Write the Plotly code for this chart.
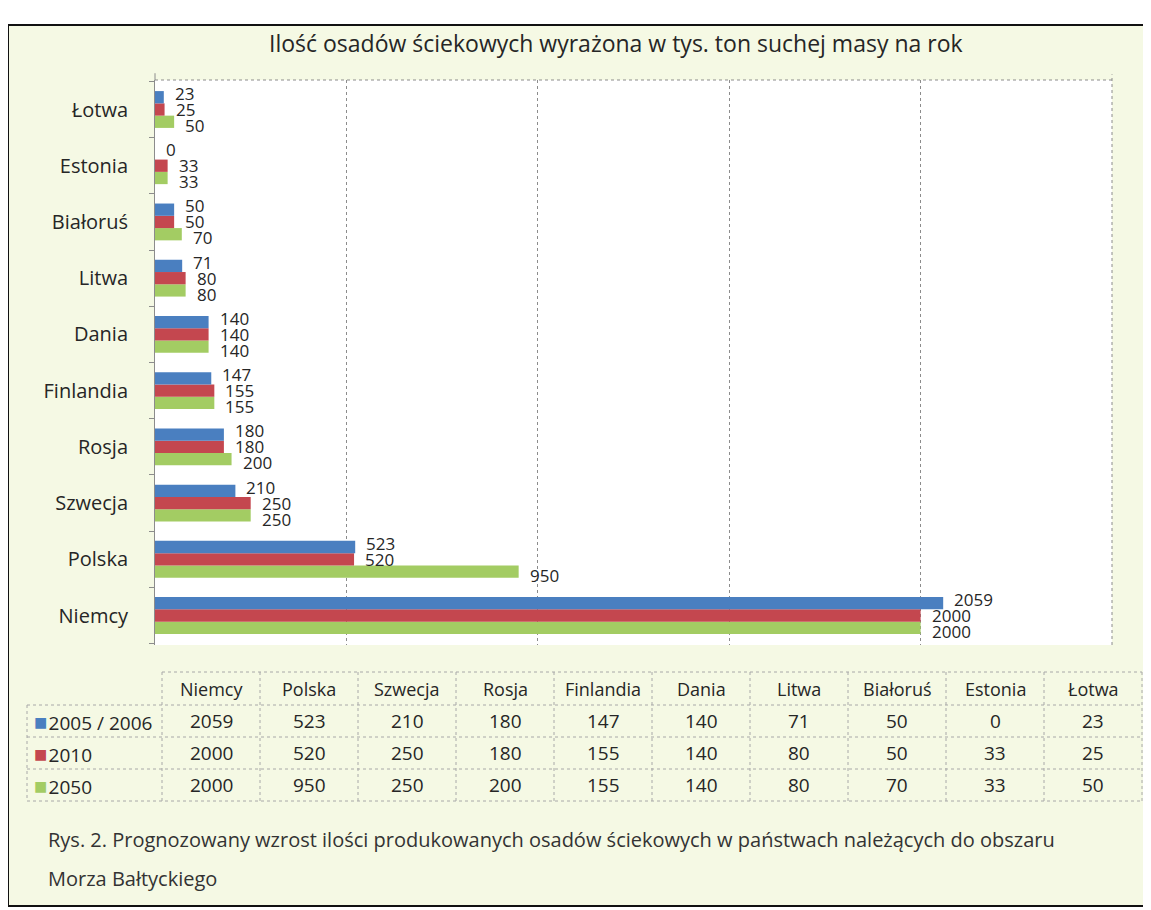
import plotly.graph_objects as go

# ---------------- data ----------------
categories = ["Niemcy", "Polska", "Szwecja", "Rosja", "Finlandia",
              "Dania", "Litwa", "Białoruś", "Estonia", "Łotwa"]
series_names = ["2005 / 2006", "2010", "2050"]
values_2005 = [2059, 523, 210, 180, 147, 140, 71, 50, 0, 23]
values_2010 = [2000, 520, 250, 180, 155, 140, 80, 50, 33, 25]
values_2050 = [2000, 950, 250, 200, 155, 140, 80, 70, 33, 50]
series_values = [values_2005, values_2010, values_2050]
series_colors = ["#4a7fc0", "#c4474f", "#a3cc63"]

title_text = "Ilość osadów ściekowych wyrażona w tys. ton suchej masy na rok"
caption_line1 = ("Rys. 2. Prognozowany wzrost ilości produkowanych osadów ściekowych "
                 "w państwach należących do obszaru")
caption_line2 = "Morza Bałtyckiego"

FONT = "Open Sans"
TXT = "#262626"

# ---------------- geometry helpers (reference pixel -> paper) ----------------
W, H = 1151, 910
OFF = 8                      # page body margin offset
L, R, T, B = 155, 1112, 80, 645


def px(x):
    return (x - L) / (R - L)


def py(y):
    return (B - y) / (B - T)


fig = go.Figure()

# traces added bottom-to-top within each group (2050 bottom, 2005/2006 top)
for idx in [2, 1, 0]:
    fig.add_trace(go.Bar(
        y=categories, x=series_values[idx], orientation="h",
        name=series_names[idx],
        marker=dict(color=series_colors[idx], line=dict(width=0)),
        showlegend=False, hoverinfo="x+y",
    ))

shapes = []
# outer frame with yellowish background
shapes.append(dict(type="rect", xref="paper", yref="paper",
                   x0=px(8), x1=px(1175), y0=py(906), y1=py(25),
                   fillcolor="#f5f9e4", line=dict(color="#111111", width=2),
                   layer="below"))
# white plot area
shapes.append(dict(type="rect", xref="paper", yref="paper",
                   x0=0, x1=1, y0=0, y1=1,
                   fillcolor="#ffffff", line=dict(width=0), layer="below"))
# plot top border and right border (dashed gray)
shapes.append(dict(type="line", xref="paper", yref="paper",
                   x0=0, x1=1, y0=1, y1=1,
                   line=dict(color="#8c8c8c", width=1, dash="dot")))
shapes.append(dict(type="line", xref="paper", yref="paper",
                   x0=1, x1=1, y0=0, y1=1.01,
                   line=dict(color="#8c8c8c", width=1, dash="dot")))
shapes.append(dict(type="line", xref="paper", yref="paper",
                   x0=0, x1=0, y0=1, y1=1.012,
                   line=dict(color="#8c8c8c", width=1)))

# ---------------- data table ----------------
col_left = 27
col_first = 162
col_w = 98
row_tops = [672, 705, 737, 769, 801]
table_line = dict(color="#a8a8a8", width=1, dash="dot")

col_edges = [col_first + i * col_w for i in range(len(categories) + 1)]
shapes.append(dict(type="line", xref="paper", yref="paper",
                   x0=px(col_first), x1=px(col_edges[-1]),
                   y0=py(row_tops[0]), y1=py(row_tops[0]), line=table_line))
for yy in row_tops[1:]:
    shapes.append(dict(type="line", xref="paper", yref="paper",
                       x0=px(col_left), x1=px(col_edges[-1]),
                       y0=py(yy), y1=py(yy), line=table_line))
for xx in col_edges:
    shapes.append(dict(type="line", xref="paper", yref="paper",
                       x0=px(xx), x1=px(xx),
                       y0=py(row_tops[0]), y1=py(row_tops[-1]), line=table_line))
shapes.append(dict(type="line", xref="paper", yref="paper",
                   x0=px(col_left), x1=px(col_left),
                   y0=py(row_tops[1]), y1=py(row_tops[-1]), line=table_line))

annotations = []
# title
annotations.append(dict(xref="paper", yref="paper", x=px(616), y=py(43),
                        text=title_text, showarrow=False,
                        font=dict(family=FONT, size=23, color=TXT),
                        xanchor="center", yanchor="middle"))

# bar value labels
yshifts = [16, 0, -16]
for s, vals in enumerate(series_values):
    for cat, v in zip(categories, vals):
        annotations.append(dict(xref="x", yref="y", x=v, y=cat,
                                text=str(v), showarrow=False,
                                xanchor="left", yanchor="middle",
                                xshift=9, yshift=yshifts[s],
                                font=dict(family=FONT, size=17, color=TXT)))

# table header
for i, cat in enumerate(categories):
    cx = (col_edges[i] + col_edges[i + 1]) / 2
    annotations.append(dict(xref="paper", yref="paper", x=px(cx),
                            y=py((row_tops[0] + row_tops[1]) / 2),
                            text=cat, showarrow=False,
                            xanchor="center", yanchor="middle",
                            font=dict(family=FONT, size=18, color=TXT)))
# table rows
for s, vals in enumerate(series_values):
    cy = (row_tops[s + 1] + row_tops[s + 2]) / 2
    annotations.append(dict(xref="paper", yref="paper", x=px(32), y=py(cy),
                            text=(f"<span style='color:{series_colors[s]};font-size:22px'>■</span>"
                                  f"<span style='font-size:5px'> </span>{series_names[s]}"),
                            showarrow=False, xanchor="left", yanchor="middle",
                            font=dict(family=FONT, size=19, color=TXT)))
    for i, v in enumerate(vals):
        cx = (col_edges[i] + col_edges[i + 1]) / 2
        annotations.append(dict(xref="paper", yref="paper", x=px(cx), y=py(cy),
                                text=str(v), showarrow=False,
                                xanchor="center", yanchor="middle",
                                font=dict(family=FONT, size=19, color=TXT)))

# caption
annotations.append(dict(xref="paper", yref="paper", x=px(46), y=py(840),
                        text=caption_line1, showarrow=False,
                        xanchor="left", yanchor="middle",
                        font=dict(family=FONT, size=20, color="#333333")))
annotations.append(dict(xref="paper", yref="paper", x=px(46), y=py(878),
                        text=caption_line2, showarrow=False,
                        xanchor="left", yanchor="middle",
                        font=dict(family=FONT, size=20, color="#333333")))

fig.update_layout(
    width=W - OFF, height=H - OFF,
    margin=dict(l=L - OFF, r=W - R, t=T - OFF, b=H - B, pad=0),
    paper_bgcolor="#ffffff", plot_bgcolor="#ffffff",
    barmode="group", bargap=0.345, bargroupgap=0,
    shapes=shapes, annotations=annotations,
    font=dict(family=FONT, color=TXT),
    xaxis=dict(range=[0, 2500], dtick=500, tick0=0,
               showgrid=True, gridcolor="#8c8c8c", gridwidth=1, griddash="dot",
               showticklabels=False, zeroline=False, showline=False, ticks=""),
    yaxis=dict(type="category", categoryorder="array", categoryarray=categories,
               showline=True, linecolor="#8c8c8c", linewidth=1,
               ticks="outside", ticklen=5, tickcolor="#8c8c8c",
               tickson="boundaries", ticklabelstandoff=22,
               showgrid=False, zeroline=False,
               tickfont=dict(family=FONT, size=20, color=TXT)),
)

fig.write_html("out.html")
